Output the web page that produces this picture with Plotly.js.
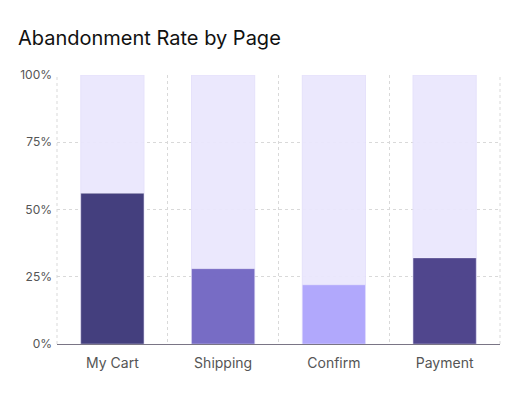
<!DOCTYPE html>
<html><head><meta charset="utf-8">
<script src="https://cdn.plot.ly/plotly-3.0.1.min.js"></script>
<style>html,body{margin:0;padding:0;background:#fff}#chart{width:520px;height:400px}</style>
</head><body><div id="chart"></div>
<script>
const pages = ["My Cart", "Shipping", "Confirm", "Payment"];
const rates = [56, 28, 22, 32];
const totals = [100, 100, 100, 100];
const barColors = ["#3F3A7A", "#7468C4", "#B0A6FC", "#4B418A"];
const yTicks = [0, 25, 50, 75, 100];
const yTickLabels = ["0%", "25%", "50%", "75%", "100%"];

const traces = [
  {type: "bar", x: pages, y: totals, opacity: 0.95, marker: {color: "#EAE7FD", line: {color: "#E4E0FB", width: 1}}, hoverinfo: "skip", showlegend: false},
  {type: "bar", x: pages, y: rates, opacity: 0.97, marker: {color: barColors, line: {color: "rgba(255,255,255,0.35)", width: 1}}, showlegend: false}
];
const grid = "#d9d9d9";
const layout = {
  width: 520, height: 400,
  margin: {l: 57, r: 20, t: 75, b: 56},
  paper_bgcolor: "#fff", plot_bgcolor: "#fff",
  barmode: "overlay", bargap: 0.43,
  font: {family: "Inter, sans-serif", color: "#555"},
  title: {text: "Abandonment Rate by Page", x: 18/520, xref: "container", xanchor: "left", y: 1 - 38/400, yref: "container", yanchor: "middle", font: {size: 20, color: "#111", family: "Inter, sans-serif"}},
  xaxis: {type: "category", tickson: "boundaries", showgrid: true, gridcolor: grid, griddash: "3px,3px", gridwidth: 1, ticks: "", showline: true, linecolor: "#7a7585", linewidth: 1, tickfont: {size: 14, color: "#555"}, ticklabelstandoff: 6, zeroline: false, fixedrange: true},
  yaxis: {range: [0, 100], tickvals: yTicks, ticktext: yTickLabels, showgrid: true, gridcolor: grid, griddash: "3px,3px", gridwidth: 1, zeroline: false, ticks: "", tickfont: {size: 12, color: "#555"}, ticklabelstandoff: 4, fixedrange: true},
  shapes: [
    {type: "line", xref: "paper", yref: "paper", x0: 1, x1: 1, y0: 0, y1: 1, layer: "below", line: {color: grid, width: 1, dash: "3px,3px"}},
    {type: "line", xref: "paper", yref: "paper", x0: 0, x1: 0, y0: 0, y1: 1, layer: "below", line: {color: grid, width: 1, dash: "3px,3px"}}
  ]
};
Plotly.newPlot("chart", traces, layout, {displayModeBar: false, staticPlot: true});
</script></body></html>
